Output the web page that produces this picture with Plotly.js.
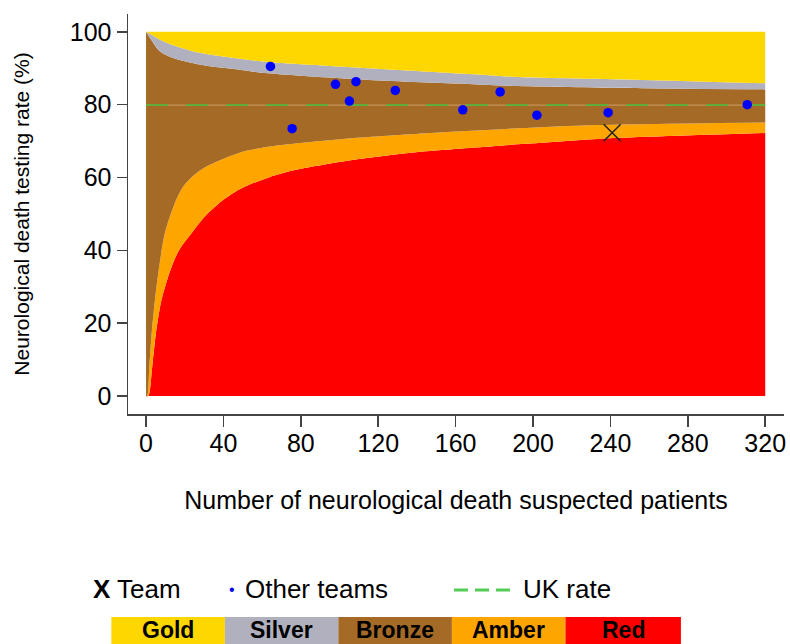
<!DOCTYPE html>
<html>
<head>
<meta charset="utf-8">
<script src="https://cdn.plot.ly/plotly-3.0.1.min.js"></script>
<style>html,body{margin:0;padding:0;background:#fff;}#chart{width:790px;height:644px;}</style>
</head>
<body>
<div id="chart"></div>
<script>
// ---- Band boundaries (n = suspected patients, value = %) ----
const redTopN    = [0, 1.2, 3.2, 5.1, 8, 13.2, 17.1, 23.5, 30.4, 39.8, 48.4, 63.8, 77.5, 106.6, 130, 149.5, 192, 233.5, 320];
const redTop     = [0, 0, 8.1, 17.2, 26.4, 35.5, 40.1, 44.7, 49.3, 53.8, 56.8, 60.1, 62.1, 64.8, 66.4, 67.4, 69.1, 70.6, 72.2];
const amberTopN  = [0, 0.6, 1.7, 2.9, 4.6, 6.8, 9.7, 14.9, 19.2, 24, 31.2, 48.4, 63.8, 106.6, 149.5, 192, 233.5, 320];
const amberTop   = [0, 0, 8.1, 17.2, 26.4, 35.5, 44.7, 53.0, 57.5, 60.3, 63.0, 66.8, 68.5, 70.8, 72.3, 73.5, 74.4, 75.1];
const bronzeTopN = [0, 3.8, 7.2, 14, 22.6, 31.2, 48.4, 63, 115, 166.7, 192, 256.7, 320];
const bronzeTop  = [100, 96.9, 94.6, 92.8, 91.6, 90.7, 89.6, 88.6, 86.8, 85.7, 85.1, 84.5, 84.2];
const silverTopN = [0, 3.5, 7.2, 14, 22.6, 31.2, 48.4, 63, 115, 166.7, 192, 256.7, 320];
const silverTop  = [100, 99.0, 97.8, 96.3, 94.9, 93.9, 92.6, 91.7, 90.0, 88.4, 87.6, 86.8, 85.9];
const goldTopN   = [0, 320];
const goldTop    = [100, 100];

// ---- Teams ----
const otherTeamsN    = [64.3, 75.5, 97.9, 105.1, 108.5, 128.8, 163.7, 183.0, 202.0, 238.8, 310.7];
const otherTeamsRate = [90.5, 73.4, 85.6, 81.0, 86.3, 83.9, 78.6, 83.5, 77.1, 77.8, 80.0];
const teamN    = [240.9];
const teamRate = [72.3];

// ---- UK rate ----
const ukN    = [0, 320];
const ukRate = [79.9, 79.9];

// ---- Axis ticks / labels ----
const xTicks = [0, 40, 80, 120, 160, 200, 240, 280, 320];
const yTicks = [0, 20, 40, 60, 80, 100];
const bandNames  = ['Gold', 'Silver', 'Bronze', 'Amber', 'Red'];
const bandColors = ['#FFD700', '#B0B0BE', '#A56A25', '#FFA500', '#FF0000'];

const FONT = 'Liberation Sans, Arial, sans-serif';
const sm = 0.8;

const traces = [
  {x: redTopN, y: redTop, mode: 'lines', line: {width: 0, shape: 'spline', smoothing: sm}, fill: 'tozeroy', fillcolor: bandColors[4], hoverinfo: 'skip'},
  {x: amberTopN, y: amberTop, mode: 'lines', line: {width: 0, shape: 'spline', smoothing: sm}, fill: 'tonexty', fillcolor: bandColors[3], hoverinfo: 'skip'},
  {x: bronzeTopN, y: bronzeTop, mode: 'lines', line: {width: 0, shape: 'spline', smoothing: sm}, fill: 'tonexty', fillcolor: bandColors[2], hoverinfo: 'skip'},
  {x: silverTopN, y: silverTop, mode: 'lines', line: {width: 0, shape: 'spline', smoothing: sm}, fill: 'tonexty', fillcolor: bandColors[1], hoverinfo: 'skip'},
  {x: goldTopN, y: goldTop, mode: 'lines', line: {width: 0}, fill: 'tonexty', fillcolor: bandColors[0], hoverinfo: 'skip'},
  {x: ukN, y: ukRate, mode: 'lines', line: {width: 1.2, color: 'rgba(255,225,190,0.35)'}, hoverinfo: 'skip'},
  {x: ukN, y: ukRate, mode: 'lines', line: {width: 2, color: 'rgba(60,190,60,0.7)', dash: '22px,18px'}, name: 'UK rate'},
  {x: otherTeamsN, y: otherTeamsRate, mode: 'markers', marker: {color: '#0000FF', size: 9.5}, name: 'Other teams'},
  {x: teamN, y: teamRate, mode: 'markers', marker: {symbol: 'x-thin-open', size: 17, color: '#222', line: {color: '#222', width: 1.5}}, name: 'Team'}
];

// paper coordinate helpers (plot area: x 128..786 px, y 14..414 px)
const PX = X => (X - 128) / 658;
const PY = Y => (414 - Y) / 400;

const boxEdges = [111.3, 225.2, 339, 452.9, 566.8, 682.6];
const shapes = [];
const annotations = [];
for (let i = 0; i < bandNames.length; i++) {
  shapes.push({type: 'rect', xref: 'paper', yref: 'paper', x0: PX(boxEdges[i]), x1: PX(boxEdges[i+1]), y0: PY(617), y1: PY(660), fillcolor: bandColors[i], line: {width: 0}, layer: 'above'});
  annotations.push({xref: 'paper', yref: 'paper', x: PX((boxEdges[i] + boxEdges[i+1]) / 2), y: PY(630), xanchor: 'center', yanchor: 'middle', text: '<b>' + bandNames[i] + '</b>', showarrow: false, font: {family: FONT, size: 23, color: '#000'}});
}
shapes.push({type: 'line', xref: 'paper', yref: 'paper', x0: PX(455), x1: PX(512), y0: PY(590), y1: PY(590), line: {color: '#55CC55', width: 3, dash: '14px,7px'}});
annotations.push({xref: 'paper', yref: 'paper', x: PX(91), y: PY(589), xanchor: 'left', yanchor: 'middle', text: '<b>X</b> Team', showarrow: false, font: {family: FONT, size: 26, color: '#000'}});
annotations.push({xref: 'paper', yref: 'paper', x: PX(232), y: PY(589), xanchor: 'center', yanchor: 'middle', text: '•', showarrow: false, font: {family: FONT, size: 16, color: '#0000FF'}});
annotations.push({xref: 'paper', yref: 'paper', x: PX(243), y: PY(589), xanchor: 'left', yanchor: 'middle', text: 'Other teams', showarrow: false, font: {family: FONT, size: 26, color: '#000'}});
annotations.push({xref: 'paper', yref: 'paper', x: PX(522), y: PY(589), xanchor: 'left', yanchor: 'middle', text: 'UK rate', showarrow: false, font: {family: FONT, size: 26, color: '#000'}});

const layout = {
  width: 790, height: 644,
  margin: {l: 128, r: 4, t: 14, b: 230, pad: 0},
  paper_bgcolor: '#fff', plot_bgcolor: '#fff',
  showlegend: false,
  font: {family: FONT, color: '#000'},
  xaxis: {
    range: [-9.33, 329.7], tickvals: xTicks, ticktext: xTicks.map(String),
    showgrid: false, zeroline: false, showline: true, linecolor: '#444', linewidth: 1.5,
    ticks: 'outside', ticklen: 11, tickwidth: 1.5, tickcolor: '#444', ticklabelstandoff: -5,
    tickfont: {family: FONT, size: 25, color: '#000'},
    title: {text: 'Number of neurological death suspected patients', font: {family: FONT, size: 25, color: '#000'}, standoff: 36},
    automargin: true, fixedrange: true
  },
  yaxis: {
    range: [-4.95, 104.9], tickvals: yTicks, ticktext: yTicks.map(String),
    showgrid: false, zeroline: false, showline: true, linecolor: '#444', linewidth: 1.5,
    ticks: 'outside', ticklen: 10, tickwidth: 1.5, tickcolor: '#444',
    tickfont: {family: FONT, size: 25, color: '#000'},
    title: {text: 'Neurological death testing rate (%)', font: {family: FONT, size: 21, color: '#000'}, standoff: 34},
    automargin: true, fixedrange: true
  },
  shapes: shapes,
  annotations: annotations
};

Plotly.newPlot('chart', traces, layout, {displayModeBar: false, staticPlot: true});
</script>
</body>
</html>
